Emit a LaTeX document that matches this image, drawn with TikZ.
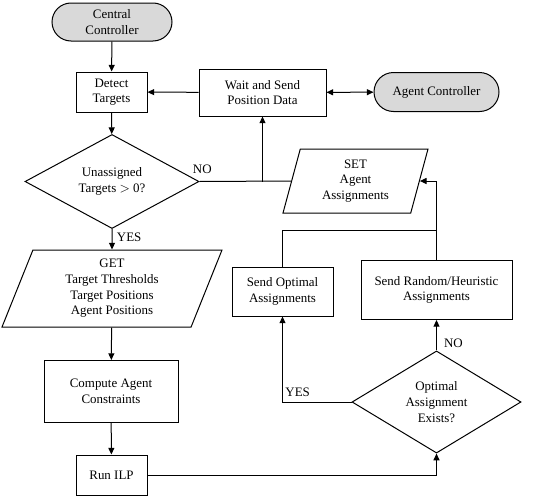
\documentclass[tikz,border=0pt]{standalone}
\usepackage{fontspec}
\setmainfont{Liberation Serif}
\usetikzlibrary{shapes.geometric,shapes.misc,arrows.meta}
\begin{document}
\begin{tikzpicture}[
    x=0.75pt, y=-0.75pt,
    every node/.style={font=\fontsize{9.7}{11.7}\selectfont},
    box/.style={rectangle, draw, line width=0.75pt, align=center, inner sep=0pt},
    term/.style={rounded rectangle, draw, line width=0.75pt, fill=black!15, align=center, inner sep=0pt},
    decision/.style={diamond, draw, line width=0.75pt, align=center, inner sep=0pt},
    io/.style={trapezium, trapezium stretches body, draw, line width=0.75pt, align=center, inner sep=0pt},
    conn/.style={draw, line width=0.75pt},
    arrow/.style={conn, -{Triangle[length=5pt,width=4.5pt]}},
    dblarrow/.style={conn, {Triangle[length=5pt,width=4.5pt]}-{Triangle[length=5pt,width=4.5pt]}}
]
\useasboundingbox (0,0) rectangle (534,496);

% left column
\node[term, minimum width=90pt, minimum height=28.5pt] (central) at (112,22) {Central\\Controller};
\node[box, minimum width=53.25pt, minimum height=30pt] (detect) at (111.5,92) {Detect\\Targets};
\node[decision, minimum width=130.5pt, minimum height=54.75pt] (unassigned) at (112,181.5) {Unassigned\\Targets $>$ 0?};
\node[io, trapezium left angle=62, trapezium right angle=118, minimum width=165pt, minimum height=57.75pt] (get) at (112,288.5) {GET\\Target Thresholds\\Target Positions\\Agent Positions};
\node[box, minimum width=100.5pt, minimum height=46.5pt] (compute) at (111,391.5) {Compute Agent\\Constraints};
\node[box, minimum width=53.25pt, minimum height=30pt] (ilp) at (111.5,475) {Run ILP};

% right side
\node[box, minimum width=95.25pt, minimum height=35.25pt] (wait) at (262.5,92.5) {Wait and Send\\Position Data};
\node[term, minimum width=93.75pt, minimum height=29.25pt] (agent) at (436.5,92) {Agent Controller};
\node[io, trapezium left angle=67.9, trapezium right angle=112.1, minimum width=108.75pt, minimum height=48pt] (set) at (355.5,181) {SET\\Agent\\Assignments};
\node[box, minimum width=75.75pt, minimum height=36.75pt] (sendopt) at (282.5,291.5) {Send Optimal\\Assignments};
\node[box, minimum width=113.25pt, minimum height=44.25pt] (sendrand) at (436.5,290) {Send Random/Heuristic\\Assignments};
\node[decision, minimum width=126.75pt, minimum height=62.25pt] (optimal) at (436.5,402) {Optimal\\Assignment\\Exists?};

\coordinate (join) at (wait.south |- unassigned.east);
\coordinate (merge) at (436,230);

\draw[arrow] (central) -- (detect);
\draw[arrow] (detect) -- (unassigned);
\draw[arrow] (wait) -- (detect);
\draw[dblarrow] (wait) -- (agent);
\draw[arrow] (unassigned) -- node[right, pos=0.4] {YES} (get);
\draw[arrow] (get) -- (compute);
\draw[arrow] (compute) -- (ilp);
\draw[conn] (unassigned.east) -- node[pos=0.03, above, yshift=2pt] {NO} (set.west);
\draw[arrow] (join) -- (wait);
\draw[arrow] (sendrand.north) |- (set.east);
\draw[conn] (sendopt.north) |- (merge);
\draw[arrow] (ilp) -| (optimal);
\draw[arrow] (optimal) -- node[right, pos=0.24, xshift=2pt] {NO} (sendrand);
\draw[arrow] (optimal.west) -| node[above, pos=0.39] {YES} (sendopt);
\end{tikzpicture}
\end{document}
